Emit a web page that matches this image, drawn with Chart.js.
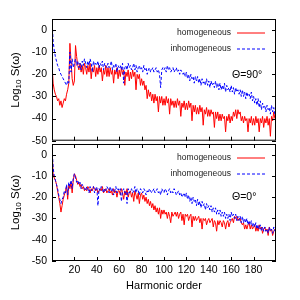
<!DOCTYPE html>
<html>
<head>
<meta charset="utf-8">
<script src="https://cdn.jsdelivr.net/npm/chart.js@4"></script>
<style>
  body { margin: 0; background: #fff; }
  #wrap { position: relative; width: 300px; height: 300px; overflow: hidden; }
  canvas { position: absolute; left: 0; }
</style>
</head>
<body>
<div id="wrap">
  <canvas id="top" width="300" height="152" style="top:0"></canvas>
  <canvas id="bottom" width="300" height="170" style="top:130px"></canvas>
</div>
<script>
// harmonic order 0..199, one value per harmonic
const xTicks = [20, 40, 60, 80, 100, 120, 140, 160, 180];
const yTicks = [0, -10, -20, -30, -40, -50];
const seriesNames = ["homogeneous", "inhomogeneous"];
const panelLabels = ["\u0398=90\u00b0", "\u0398=0\u00b0"];

// Θ=90°
const homog90 = [
  -15, -24, -27, -29, -30, -32, -31, -34, -32, -35,
  -33, -31, -32, -29, -27, -24, -6, -14, -22, -25,
  -23, -7, -12, -16, -18, -15, -19, -16, -20, -15,
  -17, -20, -16, -19, -15, -22, -17, -19, -16, -21,
  -17, -20, -16, -19, -17, -23, -18, -20, -16, -21,
  -17, -21, -17, -20, -18, -24, -18, -20, -17, -22,
  -18, -21, -17, -20, -18, -25, -19, -21, -18, -23,
  -19, -22, -18, -21, -19, -27, -20, -22, -20, -25,
  -22, -25, -23, -27, -25, -31, -27, -30, -28, -32,
  -29, -33, -29, -32, -30, -37, -30, -33, -30, -34,
  -31, -34, -30, -33, -31, -38, -31, -34, -32, -35,
  -32, -35, -31, -34, -32, -39, -33, -35, -32, -36,
  -33, -36, -32, -35, -33, -41, -34, -37, -34, -38,
  -35, -38, -34, -37, -35, -43, -36, -38, -35, -39,
  -36, -39, -36, -38, -37, -44, -37, -40, -37, -41,
  -38, -41, -38, -40, -39, -46, -39, -41, -38, -42,
  -39, -41, -37, -39, -36, -40, -36, -38, -37, -41,
  -39, -42, -39, -41, -40, -46, -40, -42, -39, -43,
  -40, -43, -39, -42, -40, -46, -40, -42, -39, -44,
  -40, -42, -39, -43, -40, -48, -39, -41, -37, -40
];
const inhomog90 = [
  5, -5, -9, -12, -14, -16, -17, -19, -20, -21,
  -22, -23, -24, -25, -23, -24, -10, -19, -13, -17,
  -15, -13, -16, -14, -17, -15, -18, -14, -16, -13,
  -15, -17, -14, -16, -13, -15, -19, -14, -16, -15,
  -16, -14, -17, -15, -16, -14, -18, -15, -16, -17,
  -15, -17, -16, -14, -18, -16, -17, -15, -19, -16,
  -17, -16, -18, -15, -24, -17, -16, -18, -15, -17,
  -16, -18, -17, -15, -18, -16, -19, -17, -16, -18,
  -17, -19, -16, -18, -17, -20, -18, -17, -19, -18,
  -17, -19, -18, -17, -19, -18, -20, -26, -18, -17,
  -18, -17, -19, -16, -18, -17, -19, -18, -17, -19,
  -18, -17, -19, -18, -20, -18, -19, -20, -19, -21,
  -19, -22, -20, -23, -20, -22, -21, -24, -21, -23,
  -21, -24, -22, -25, -22, -24, -23, -25, -22, -25,
  -23, -26, -23, -25, -24, -26, -23, -26, -24, -27,
  -24, -27, -25, -27, -24, -28, -25, -27, -26, -28,
  -25, -28, -26, -29, -26, -28, -27, -29, -27, -30,
  -27, -30, -28, -31, -28, -30, -29, -31, -28, -32,
  -30, -33, -31, -34, -31, -35, -32, -36, -33, -35,
  -34, -37, -34, -36, -35, -38, -34, -37, -35, -38
];

// Θ=0°
const homog0 = [
  3, -9, -11, -12, -14, -17, -20, -23, -27, -24,
  -21, -19, -17, -15, -21, -14, -16, -13, -18, -12,
  -9, -10, -12, -14, -13, -15, -14, -16, -15, -17,
  -16, -17, -15, -16, -18, -16, -17, -15, -16, -17,
  -16, -18, -17, -16, -17, -15, -18, -17, -16, -18,
  -17, -16, -18, -17, -19, -16, -18, -17, -20, -17,
  -17, -19, -16, -18, -21, -17, -19, -16, -20, -18,
  -17, -20, -18, -22, -17, -19, -21, -18, -23, -19,
  -18, -21, -19, -22, -20, -23, -21, -24, -22, -25,
  -23, -26, -24, -27, -25, -28, -25, -30, -26, -28,
  -26, -28, -27, -30, -27, -29, -32, -27, -29, -28,
  -27, -29, -27, -30, -28, -27, -31, -28, -33, -28,
  -29, -28, -31, -29, -28, -34, -29, -31, -29, -31,
  -30, -29, -32, -30, -35, -30, -31, -30, -33, -31,
  -30, -32, -31, -30, -34, -31, -32, -36, -31, -33,
  -31, -32, -34, -31, -32, -35, -32, -31, -34, -32,
  -31, -30, -32, -29, -30, -29, -31, -30, -30, -32,
  -33, -32, -35, -33, -35, -33, -32, -35, -33, -35,
  -34, -33, -36, -34, -36, -33, -35, -34, -37, -35,
  -34, -36, -35, -38, -34, -36, -35, -38, -36, -35
];
const inhomog0 = [
  5, -6, -10, -12, -14, -16, -19, -21, -23, -21,
  -20, -17, -18, -14, -19, -13, -15, -12, -16, -11,
  -9, -11, -13, -12, -14, -13, -16, -14, -15, -16,
  -17, -15, -16, -18, -15, -17, -16, -15, -18, -16,
  -15, -24, -16, -17, -15, -16, -18, -16, -17, -15,
  -16, -18, -15, -17, -16, -19, -17, -15, -18, -16,
  -17, -16, -22, -17, -16, -18, -17, -23, -16, -18,
  -17, -16, -18, -17, -15, -18, -16, -17, -19, -16,
  -17, -18, -16, -17, -19, -17, -18, -16, -17, -18,
  -17, -16, -18, -17, -16, -18, -17, -19, -16, -17,
  -18, -16, -17, -19, -17, -16, -18, -17, -18, -16,
  -17, -19, -18, -17, -19, -18, -20, -19, -18, -20,
  -18, -21, -19, -22, -20, -23, -20, -22, -21, -24,
  -21, -24, -22, -25, -22, -24, -23, -26, -23, -25,
  -24, -26, -24, -27, -25, -27, -25, -28, -26, -28,
  -26, -29, -27, -29, -27, -30, -28, -30, -28, -31,
  -27, -29, -28, -30, -28, -31, -29, -31, -29, -32,
  -29, -32, -30, -32, -30, -33, -31, -33, -31, -34,
  -32, -34, -32, -35, -33, -35, -33, -36, -34, -36,
  -34, -36, -35, -37, -34, -36, -35, -37, -34, -36
];

const RED = "#ff0000";
const BLUE = "#0000ff";
const FONT = "'Liberation Sans', Arial, Helvetica, sans-serif";

const toPoints = vals => vals.map((v, i) => ({ x: i, y: v }));

// frame, inward ticks, legend and labels (gnuplot look)
const decorPlugin = {
  id: "decor",
  afterDatasetsDraw(chart, args, opts) {
    const { ctx, chartArea: a, scales: { x, y } } = chart;
    ctx.save();
    ctx.strokeStyle = "#000";
    ctx.lineWidth = 1;
    ctx.setLineDash([]);
    ctx.strokeRect(a.left + 0.5, a.top + 0.5, a.right - a.left - 1, a.bottom - a.top - 1);
    ctx.beginPath();
    yTicks.forEach(v => {
      const py = Math.round(y.getPixelForValue(v)) + 0.5;
      ctx.moveTo(a.left, py); ctx.lineTo(a.left + 4, py);
      ctx.moveTo(a.right, py); ctx.lineTo(a.right - 4, py);
    });
    xTicks.forEach(v => {
      const px = Math.round(x.getPixelForValue(v)) + 0.5;
      ctx.moveTo(px, a.bottom); ctx.lineTo(px, a.bottom - 4);
      if (opts.topTicks) { ctx.moveTo(px, a.top); ctx.lineTo(px, a.top + 4); }
    });
    ctx.stroke();

    // legend
    ctx.fillStyle = "#222";
    ctx.font = "8.5px " + FONT;
    ctx.textAlign = "right";
    ctx.textBaseline = "middle";
    const rows = [a.top + 14, a.top + 30];
    ctx.fillText(seriesNames[0], 231, rows[0]);
    ctx.fillText(seriesNames[1], 231, rows[1]);
    ctx.lineWidth = 1;
    ctx.strokeStyle = RED;
    ctx.beginPath(); ctx.moveTo(237, rows[0]); ctx.lineTo(265, rows[0]); ctx.stroke();
    ctx.strokeStyle = BLUE;
    ctx.setLineDash([3, 2]);
    ctx.beginPath(); ctx.moveTo(237, rows[1]); ctx.lineTo(265, rows[1]); ctx.stroke();
    ctx.setLineDash([]);

    // panel angle label
    ctx.fillStyle = "#000";
    ctx.font = "10.5px " + FONT;
    ctx.textAlign = "left";
    ctx.fillText(opts.label, 232, a.top + opts.labelDy);

    // y title: Log10 S(ω) with subscript
    const cy = (a.top + a.bottom) / 2;
    ctx.translate(16, cy);
    ctx.rotate(-Math.PI / 2);
    const big = "11.5px " + FONT, small = "8px " + FONT;
    ctx.font = big; const w1 = ctx.measureText("Log").width;
    ctx.font = small; const w2 = ctx.measureText("10").width;
    ctx.font = big; const w3 = ctx.measureText(" S(\u03c9)").width;
    let sx = -(w1 + w2 + w3) / 2;
    ctx.textAlign = "left";
    ctx.font = big; ctx.fillText("Log", sx, 0); sx += w1;
    ctx.font = small; ctx.fillText("10", sx, 3); sx += w2;
    ctx.font = big; ctx.fillText(" S(\u03c9)", sx, 0);
    ctx.restore();

    if (opts.xTitle) {
      ctx.save();
      ctx.fillStyle = "#000";
      ctx.font = "11px " + FONT;
      ctx.textAlign = "center";
      ctx.textBaseline = "middle";
      ctx.fillText(opts.xTitle, (a.left + a.right) / 2, a.bottom + 25);
      ctx.restore();
    }
  }
};

function makePanel(id, homog, inhomog, label, isBottom) {
  return new Chart(document.getElementById(id), {
    type: "line",
    data: {
      datasets: [
        { label: seriesNames[1], data: toPoints(inhomog), borderColor: BLUE, borderWidth: 1,
          borderDash: [3, 2], pointRadius: 0, tension: 0, order: 0 },
        { label: seriesNames[0], data: toPoints(homog), borderColor: RED, borderWidth: 1,
          pointRadius: 0, tension: 0, order: 1 },
      ],
    },
    options: {
      responsive: false,
      animation: false,
      layout: { padding: isBottom ? { top: 14, right: 24, bottom: 0, left: 0 }
                                  : { top: 19, right: 24, bottom: 8, left: 0 } },
      plugins: {
        legend: { display: false },
        tooltip: { enabled: false },
        decor: { label: label, labelDy: isBottom ? 53 : 56, topTicks: isBottom,
                 xTitle: isBottom ? "Harmonic order" : null },
      },
      scales: {
        x: {
          type: "linear",
          min: 0, max: 200,
          display: isBottom,
          grid: { display: false, drawTicks: false },
          border: { display: false },
          afterBuildTicks: s => { s.ticks = xTicks.map(v => ({ value: v })); },
          afterFit: s => { s.height = isBottom ? 39 : 0; },
          ticks: { padding: 3, color: "#000", font: { family: FONT, size: 10.5 }, maxRotation: 0 },
        },
        y: {
          min: -50, max: 5,
          grid: { display: false, drawTicks: false },
          border: { display: false },
          afterBuildTicks: s => { s.ticks = yTicks.map(v => ({ value: v })); },
          afterFit: s => { s.width = 52; },
          ticks: { padding: 5, color: "#000", font: { family: FONT, size: 10.5 } },
        },
      },
    },
    plugins: [decorPlugin],
  });
}

makePanel("top", homog90, inhomog90, panelLabels[0], false);
makePanel("bottom", homog0, inhomog0, panelLabels[1], true);
</script>
</body>
</html>
